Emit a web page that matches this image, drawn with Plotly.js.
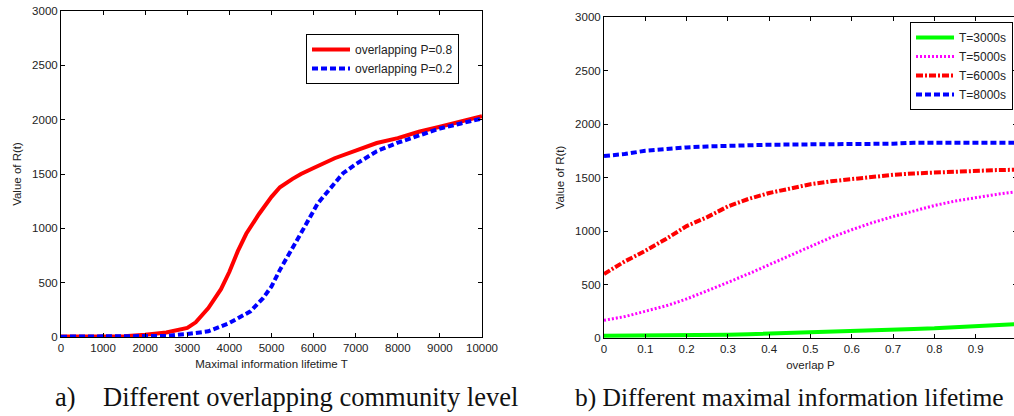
<!DOCTYPE html>
<html>
<head>
<meta charset="utf-8">
<script src="https://cdn.plot.ly/plotly-3.0.1.min.js"></script>
<style>
html,body{margin:0;padding:0;overflow:hidden;background:#fff;}
#chart{width:1020px;height:416px;}
</style>
</head>
<body>
<div id="chart"></div>
<script>
// ---- Data: (a) R(t) vs maximal information lifetime T ----
const lifetimeT = [0, 1000, 1500, 2000, 2500, 3000, 3200, 3500, 3800, 4000, 4200, 4400, 4700, 5000, 5200, 5500, 5700, 6000, 6300, 6500, 7000, 7500, 8000, 8500, 9000, 9500, 10000];
const rOverlap08 = [5, 6, 8, 20, 42, 83, 135, 266, 440, 600, 790, 950, 1130, 1290, 1378, 1455, 1500, 1555, 1613, 1645, 1715, 1785, 1830, 1889, 1935, 1981, 2032];
const lifetimeT2 = [0, 1000, 1500, 2000, 2500, 3000, 3500, 4000, 4300, 4500, 4800, 5000, 5200, 5400, 5600, 5700, 5900, 6100, 6400, 6700, 7000, 7500, 8000, 8500, 9000, 9500, 10000];
const rOverlap02 = [3, 3, 4, 5, 10, 28, 52, 129, 190, 236, 358, 465, 618, 760, 900, 955, 1093, 1230, 1369, 1507, 1590, 1710, 1788, 1858, 1919, 1965, 2011];

// ---- Data: (b) R(t) vs overlap P ----
const overlapP = [0, 0.05, 0.1, 0.15, 0.2, 0.25, 0.3, 0.35, 0.4, 0.45, 0.5, 0.55, 0.6, 0.65, 0.7, 0.75, 0.8, 0.85, 0.9, 0.95, 1.0];
const rT3000 = [22, 22, 22, 24, 28, 30, 31, 35, 40, 45, 50, 55, 62, 70, 78, 84, 90, 99, 109, 120, 131];
const rT5000 = [165, 200, 250, 300, 365, 440, 520, 600, 685, 775, 860, 940, 1012, 1078, 1135, 1190, 1238, 1280, 1314, 1342, 1368];
const rT6000 = [598, 715, 815, 925, 1046, 1130, 1230, 1300, 1355, 1400, 1437, 1465, 1488, 1508, 1525, 1538, 1548, 1556, 1564, 1569, 1573];
const rT8000 = [1701, 1719, 1750, 1768, 1781, 1790, 1797, 1802, 1806, 1808, 1809, 1816, 1816, 1816, 1816, 1825, 1825, 1825, 1825, 1825, 1825];

const xTicksA = [0, 1000, 2000, 3000, 4000, 5000, 6000, 7000, 8000, 9000, 10000];
const xTickTextA = ['0', '1000', '2000', '3000', '4000', '5000', '6000', '7000', '8000', '9000', '10000'];
const yTicks = [0, 500, 1000, 1500, 2000, 2500, 3000];
const yTickText = ['0', '500', '1000', '1500', '2000', '2500', '3000'];
const xTicksB = [0, 0.1, 0.2, 0.3, 0.4, 0.5, 0.6, 0.7, 0.8, 0.9, 1];

const W = 1020, H = 416;
const sans = '"Liberation Sans", Arial, Helvetica, sans-serif';
const serif = '"Liberation Serif", "Times New Roman", serif';
const tickFont = {family: sans, size: 11.5, color: '#222'};
const titleFont = {family: sans, size: 11.5, color: '#222'};

function axisBase(extra) {
  return Object.assign({
    showline: true, mirror: 'ticks', linecolor: '#000', linewidth: 1,
    ticks: 'inside', ticklen: 4, tickcolor: '#000', tickwidth: 1,
    showgrid: false, zeroline: false, tickfont: tickFont,
    tickmode: 'array', fixedrange: true
  }, extra);
}

const traces = [
  {x: lifetimeT, y: rOverlap08, name: 'overlapping P=0.8', mode: 'lines',
   line: {color: '#ff0000', width: 4}, xaxis: 'x', yaxis: 'y', legend: 'legend'},
  {x: lifetimeT2, y: rOverlap02, name: 'overlapping P=0.2', mode: 'lines',
   line: {color: '#0000ff', width: 4, dash: '6px,3px'}, xaxis: 'x', yaxis: 'y', legend: 'legend'},
  {x: overlapP, y: rT3000, name: 'T=3000s', mode: 'lines',
   line: {color: '#00ff00', width: 4}, xaxis: 'x2', yaxis: 'y2', legend: 'legend2'},
  {x: overlapP, y: rT5000, name: 'T=5000s', mode: 'lines',
   line: {color: '#ff00ff', width: 3, dash: '2px,2px'}, xaxis: 'x2', yaxis: 'y2', legend: 'legend2'},
  {x: overlapP, y: rT6000, name: 'T=6000s', mode: 'lines',
   line: {color: '#ff0000', width: 4, dash: '7px,2px,2px,2px'}, xaxis: 'x2', yaxis: 'y2', legend: 'legend2'},
  {x: overlapP, y: rT8000, name: 'T=8000s', mode: 'lines',
   line: {color: '#0000ff', width: 4, dash: '6px,3px'}, xaxis: 'x2', yaxis: 'y2', legend: 'legend2'}
];

const layout = {
  width: W, height: H,
  margin: {l: 0, r: 0, t: 0, b: 0},
  paper_bgcolor: '#fff', plot_bgcolor: '#fff',
  showlegend: true,
  font: {family: sans, size: 11, color: '#222'},
  xaxis: axisBase({domain: [61 / W, 482 / W], range: [0, 10000], tickvals: xTicksA, ticktext: xTickTextA, anchor: 'y',
    title: {text: 'Maximal information lifetime T', font: titleFont, standoff: 7}}),
  yaxis: axisBase({domain: [(H - 337) / H, (H - 11) / H], range: [0, 3000], tickvals: yTicks, ticktext: yTickText, anchor: 'x',
    title: {text: 'Value of R(t)', font: titleFont, standoff: 8}}),
  xaxis2: axisBase({domain: [604 / W, 1017 / W], range: [0, 1], tickvals: xTicksB, anchor: 'y2',
    title: {text: 'overlap P', font: titleFont, standoff: 7}}),
  yaxis2: axisBase({domain: [(H - 338) / H, (H - 17) / H], range: [0, 3000], tickvals: yTicks, ticktext: yTickText, anchor: 'x2',
    title: {text: 'Value of R(t)', font: titleFont, standoff: 8}}),
  legend: {x: 459 / W, xanchor: 'right', y: (H - 34) / H, yanchor: 'top',
    bgcolor: '#fff', bordercolor: '#000', borderwidth: 1, itemwidth: 38,
    font: {family: sans, size: 12, color: '#222'}, tracegroupgap: 0},
  legend2: {x: 1013 / W, xanchor: 'right', y: (H - 22) / H, yanchor: 'top',
    bgcolor: '#fff', bordercolor: '#000', borderwidth: 1, itemwidth: 38,
    font: {family: sans, size: 12, color: '#222'}, tracegroupgap: 0},
  annotations: [
    {text: 'a)', xref: 'paper', yref: 'paper', x: 53 / W, xanchor: 'left', y: (H - 397) / H, yanchor: 'middle',
     showarrow: false, font: {family: serif, size: 26.5, color: '#111'}},
    {text: 'Different overlapping community level', xref: 'paper', yref: 'paper', x: 101 / W, xanchor: 'left',
     y: (H - 397) / H, yanchor: 'middle', showarrow: false, font: {family: serif, size: 26.5, color: '#111'}},
    {text: 'b) Different maximal information lifetime', xref: 'paper', yref: 'paper', x: 573 / W, xanchor: 'left',
     y: (H - 397) / H, yanchor: 'middle', showarrow: false, font: {family: serif, size: 25.5, color: '#111'}}
  ]
};

Plotly.newPlot('chart', traces, layout, {displayModeBar: false, staticPlot: true});
</script>
</body>
</html>
